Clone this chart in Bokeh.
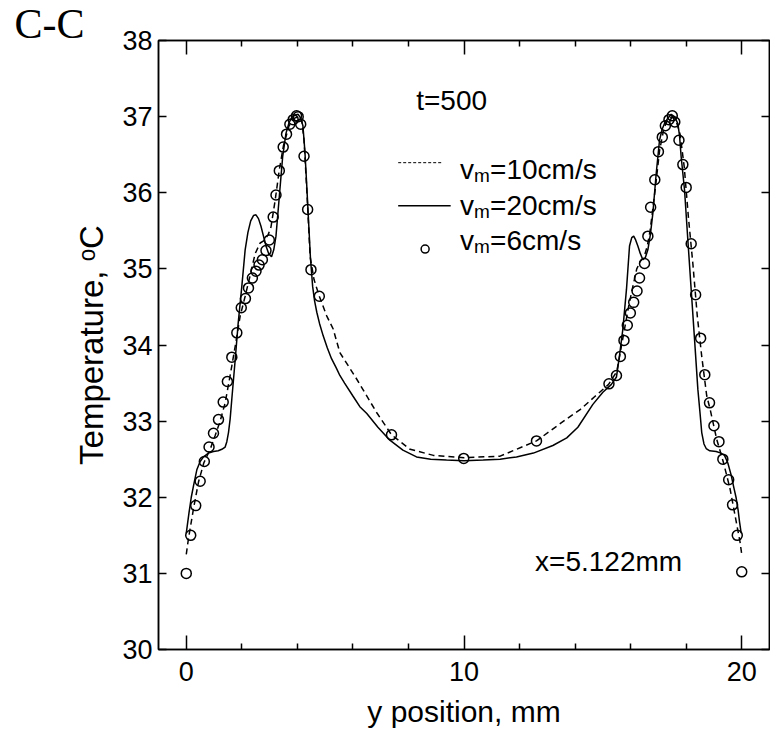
import math
from bokeh.plotting import figure
from bokeh.models import Range1d, LinearAxis, FixedTicker, Label, CustomLabelingPolicy
from bokeh.embed import file_html
from bokeh.resources import INLINE

# ---------------- data ----------------
# v_m = 10 cm/s  (dashed line)
x_v10 = [0.0, 0.08, 0.26, 0.44, 0.63, 0.86, 1.04, 1.22, 1.4, 1.58, 1.76, 1.94, 2.12, 2.29,
         2.48, 2.66, 2.8, 2.95, 3.05, 3.2, 3.35, 3.5, 3.7, 3.9, 4.05, 4.16, 4.24, 4.34, 4.46,
         4.6, 4.79, 5.06, 5.29, 5.53, 6.14, 6.86, 7.39, 8.06, 8.9, 10.0, 11.3, 12.61, 13.7,
         14.18, 14.7, 15.2, 15.5, 15.65, 15.8, 15.95, 16.1, 16.22, 16.35, 16.48, 16.6, 16.7,
         16.88, 17.04, 17.2, 17.35, 17.5, 17.65, 17.78, 17.93, 18.08, 18.24, 18.4, 18.56,
         18.74, 18.86, 19.1, 19.34, 19.58, 19.76, 19.94, 20.0]
y_v10 = [31.25, 31.46, 31.85, 32.2, 32.45, 32.63, 32.81, 33.0, 33.24, 33.6, 33.98, 34.38, 34.64,
         34.9, 35.2, 35.34, 35.37, 35.45, 35.55, 35.9, 36.3, 36.62, 36.88, 36.98, 37.0, 36.95,
         36.69, 36.03, 35.16, 34.86, 34.64, 34.38, 34.21, 33.9, 33.55, 33.11, 32.82, 32.63,
         32.55, 32.52, 32.54, 32.74, 33.03, 33.15, 33.32, 33.48, 33.65, 33.95, 34.25, 34.55,
         34.8, 35.0, 35.1, 35.15, 35.3, 35.5, 36.03, 36.55, 36.85, 36.97, 37.0, 36.93, 36.77,
         36.34, 35.68, 35.07, 34.38, 33.85, 33.33, 33.16, 32.76, 32.46, 32.11, 31.76, 31.41,
         31.25]

# v_m = 20 cm/s  (solid line)
x_v20 = [0.0, 0.1, 0.18, 0.26, 0.38, 0.5, 0.62, 0.8, 0.98, 1.15, 1.28, 1.4, 1.46, 1.52, 1.58,
         1.64, 1.76, 1.87, 2.0, 2.12, 2.22, 2.32, 2.42, 2.51, 2.6, 2.69, 2.78, 2.87, 2.97,
         3.07, 3.15, 3.23, 3.35, 3.47, 3.59, 3.7, 3.8, 3.92, 4.03, 4.12, 4.2, 4.27, 4.33,
         4.4, 4.47, 4.55, 4.62, 4.7, 4.8, 4.93, 5.08, 5.23, 5.4, 5.53, 5.7, 6.0, 6.25, 6.5,
         6.9, 7.33, 7.8, 8.29, 8.8, 9.37, 10.0, 10.69, 11.3, 11.89, 12.5, 13.2, 13.7, 14.1,
         14.64, 15.0, 15.3, 15.49, 15.6, 15.72, 15.85, 15.96, 16.04, 16.11, 16.18, 16.26,
         16.35, 16.44, 16.53, 16.62, 16.71, 16.8, 16.92, 17.04, 17.13, 17.22, 17.34, 17.46,
         17.58, 17.7, 17.76, 17.82, 17.94, 18.06, 18.18, 18.3, 18.42, 18.5, 18.56, 18.64,
         18.72, 18.85, 19.08, 19.25, 19.38, 19.5, 19.62, 19.72, 19.8, 19.87, 19.92, 19.98]
y_v20 = [31.53, 31.8, 32.0, 32.15, 32.36, 32.47, 32.53, 32.58, 32.6, 32.61, 32.63, 32.66,
         32.73, 32.85, 33.03, 33.29, 33.8, 34.29, 34.77, 35.25, 35.48, 35.63, 35.7, 35.71,
         35.66, 35.56, 35.43, 35.3, 35.2, 35.16, 35.25, 35.43, 35.95, 36.47, 36.78, 36.92,
         36.99, 37.02, 37.03, 36.98, 36.88, 36.55, 36.15, 35.65, 35.15, 34.77, 34.58, 34.43,
         34.28, 34.12, 33.96, 33.82, 33.7, 33.6, 33.5, 33.33, 33.19, 33.1, 32.92, 32.75,
         32.62, 32.53, 32.5, 32.49, 32.48, 32.49, 32.5, 32.53, 32.58, 32.68, 32.78, 32.92,
         33.22, 33.38, 33.48, 33.58, 33.86, 34.21, 34.73, 35.3, 35.41, 35.43, 35.38, 35.3,
         35.2, 35.12, 35.15, 35.25, 35.45, 35.73, 36.25, 36.69, 36.83, 36.91, 36.98, 37.03,
         37.0, 36.91, 36.75, 36.47, 36.04, 35.38, 34.73, 34.08, 33.42, 33.1, 32.85, 32.7,
         32.64, 32.61, 32.6, 32.58, 32.55, 32.45, 32.29, 32.12, 31.99, 31.83, 31.68, 31.53]

# v_m = 6 cm/s  (open circles)
x_v6 = [0.0, 0.16, 0.34, 0.5, 0.65, 0.82, 0.98, 1.16, 1.33, 1.48, 1.64, 1.82, 1.98, 2.13,
        2.24, 2.38, 2.51, 2.62, 2.74, 2.87, 2.99, 3.13, 3.23, 3.35, 3.49, 3.61, 3.73, 3.85,
        3.97, 4.03, 4.12, 4.24, 4.37, 4.49, 4.79, 7.39, 9.99, 12.61, 15.22, 15.49, 15.63,
        15.76, 15.88, 15.99, 16.11, 16.23, 16.32, 16.5, 16.62, 16.72, 16.87, 17.0, 17.14,
        17.25, 17.38, 17.5, 17.59, 17.74, 17.88, 18.0, 18.18, 18.34, 18.52, 18.67, 18.84,
        19.0, 19.18, 19.32, 19.53, 19.67, 19.84, 20.0]
y_v6 = [31.0, 31.5, 31.89, 32.21, 32.47, 32.66, 32.84, 33.02, 33.25, 33.52, 33.84, 34.16,
        34.49, 34.61, 34.75, 34.88, 34.97, 35.05, 35.12, 35.24, 35.38, 35.68, 35.97, 36.29,
        36.6, 36.77, 36.9, 36.96, 37.01, 37.0, 36.9, 36.48, 35.78, 34.99, 34.64, 32.82,
        32.51, 32.74, 33.49, 33.6, 33.85, 34.06, 34.26, 34.42, 34.56, 34.71, 34.88, 35.07,
        35.43, 35.81, 36.17, 36.54, 36.73, 36.88, 36.96, 37.01, 36.93, 36.69, 36.37, 36.07,
        35.33, 34.66, 34.09, 33.61, 33.24, 32.94, 32.73, 32.5, 32.23, 31.9, 31.5, 31.02]

x_major = [0, 10, 20]
x_minor = [2, 4, 6, 8, 12, 14, 16, 18]
y_ticks = [30, 31, 32, 33, 34, 35, 36, 37, 38]

legend_labels = ["=10cm/s", "=20cm/s", "=6cm/s"]

# ---------------- figure ----------------
FONT = "Liberation Sans"
TICK_FS = "27px"

p = figure(width=770, height=730, output_backend="svg", toolbar_location=None,
           x_range=Range1d(-1, 21), y_range=Range1d(30, 38),
           min_border_left=158, min_border_right=1, min_border_top=40,
           min_border_bottom=78, title="C-C")
p.xgrid.visible = False
p.ygrid.visible = False
p.outline_line_color = "black"
p.outline_line_width = 1.5
p.background_fill_color = "white"
p.border_fill_color = "white"

# panel label "C-C" as the plot title, pulled to the top-left corner
p.title.text_font = "Liberation Serif"
p.title.text_font_size = "42px"
p.title.text_font_style = "normal"
p.title.text_color = "black"
p.title.align = "left"
p.title.offset = -144
p.title.standoff = -12
p.title.vertical_align = "bottom"

no_labels = CustomLabelingPolicy(code="""
for (const i of indices) { indices.unset(i) }
return indices
""")

def style_axis(ax, show_labels):
    ax.axis_line_color = "black"
    ax.axis_line_width = 1.5
    ax.major_tick_line_color = "black"
    ax.major_tick_line_width = 1.5
    ax.minor_tick_line_color = "black"
    ax.minor_tick_line_width = 1.5
    ax.major_tick_out = 0
    ax.minor_tick_out = 0
    ax.major_label_text_font = FONT
    ax.major_label_text_color = "black"
    if show_labels:
        ax.major_label_text_font_size = TICK_FS
    else:
        ax.major_label_text_font_size = "0px"
        ax.major_label_policy = no_labels
        ax.major_label_standoff = 0

xa = p.xaxis[0]
xa.ticker = FixedTicker(ticks=x_major, minor_ticks=x_minor)
style_axis(xa, True)
xa.major_tick_in = 14
xa.minor_tick_in = 6
xa.major_label_standoff = 12
xa.axis_label = "y position, mm"
xa.axis_label_text_font = FONT
xa.axis_label_text_font_size = "30px"
xa.axis_label_text_font_style = "normal"
xa.axis_label_text_color = "black"
xa.axis_label_standoff = 11

ya = p.yaxis[0]
ya.ticker = FixedTicker(ticks=y_ticks, minor_ticks=[])
style_axis(ya, True)
ya.major_tick_in = 8
ya.minor_tick_in = 0
ya.major_label_standoff = 6
ya.axis_label = "Temperature, \u1d52C"
ya.axis_label_text_font = FONT
ya.axis_label_text_font_size = "33px"
ya.axis_label_text_font_style = "normal"
ya.axis_label_text_color = "black"
ya.axis_label_standoff = 9

ta = LinearAxis(ticker=FixedTicker(ticks=x_major, minor_ticks=x_minor))
style_axis(ta, False)
ta.major_tick_in = 14
ta.minor_tick_in = 6
p.add_layout(ta, "above")

ra = LinearAxis(ticker=FixedTicker(ticks=y_ticks, minor_ticks=[]))
style_axis(ra, False)
ra.major_tick_in = 8
ra.minor_tick_in = 0
p.add_layout(ra, "right")

# ---------------- data marks ----------------
p.line(x_v10, y_v10, line_color="black", line_width=1.5, line_dash="6 4")
p.line(x_v20, y_v20, line_color="black", line_width=1.5)
p.scatter(x_v6, y_v6, marker="circle", size=10, line_color="black", line_width=1.5,
          fill_alpha=0)

# ---------------- legend (drawn by hand, positions in data units) ----------------
LEG_LINE_X0 = 7.63
LEG_TEXT_X = 9.86
leg_baselines = [36.17, 35.706, 35.235]
leg_sample_y = [36.395, 35.83, 35.26]
TXT_LIFT = 10  # pixels

p.line([LEG_LINE_X0, 9.25], [leg_sample_y[0]] * 2, line_color="black",
       line_width=1, line_dash="3 2")
p.line([LEG_LINE_X0, 9.52], [leg_sample_y[1]] * 2, line_color="black", line_width=1.5)
p.scatter([8.6], [leg_sample_y[2]], marker="circle", size=8, line_color="black",
          line_width=1.5, fill_alpha=0)

TXT = dict(text_font=FONT, text_color="black", text_baseline="alphabetic")
for lab, yb in zip(legend_labels, leg_baselines):
    p.add_layout(Label(x=LEG_TEXT_X, y=yb, y_offset=TXT_LIFT, text="v",
                       text_font_size="28px", **TXT))
    p.add_layout(Label(x=LEG_TEXT_X, y=yb, x_offset=14, y_offset=TXT_LIFT - 6, text="m",
                       text_font_size="19px", **TXT))
    p.add_layout(Label(x=LEG_TEXT_X, y=yb, x_offset=30, y_offset=TXT_LIFT, text=lab,
                       text_font_size="28px", **TXT))

p.add_layout(Label(x=8.28, y=37.08, y_offset=TXT_LIFT, text="t=500",
                   text_font_size="28px", **TXT))
p.add_layout(Label(x=12.56, y=31.03, y_offset=TXT_LIFT, text="x=5.122mm",
                   text_font_size="28px", **TXT))

open("out.html", "w").write(file_html(p, INLINE))
